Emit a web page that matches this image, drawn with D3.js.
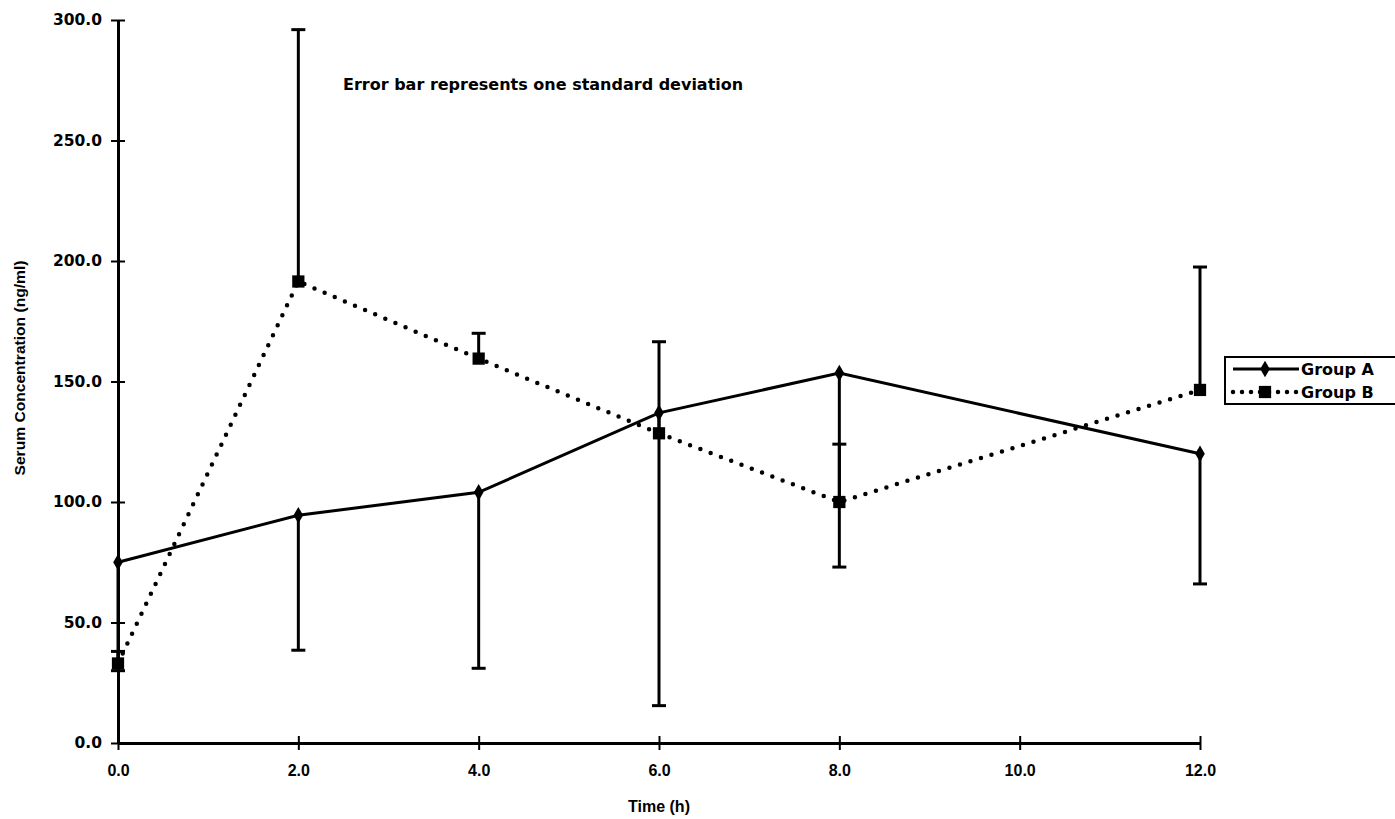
<!DOCTYPE html>
<html>
<head>
<meta charset="utf-8">
<script src="https://cdn.jsdelivr.net/npm/d3@7"></script>
<style>
  html, body { margin: 0; padding: 0; background: #fff; }
  svg { display: block; }
  text { fill: #000; }
</style>
</head>
<body>
<svg id="chart" width="1395" height="819"></svg>
<script>
// Sampling times (hours)
const times = [0, 2, 4, 6, 8, 12];
// Mean serum concentration (ng/ml)
const groupA = [75, 94.5, 104, 137, 153.5, 120];
const groupB = [33, 191.5, 159.5, 128.5, 100, 146.5];
// One standard deviation (A drawn downward, B drawn upward)
const groupAsd = [45, 56, 73, 121.5, 80.5, 54];
const groupBsd = [5, 104.5, 10.5, 38, 24, 51];
// Axis ticks
const xTicks = [0, 2, 4, 6, 8, 10, 12];
const yTicks = [0, 50, 100, 150, 200, 250, 300];
const seriesNames = ["Group A", "Group B"];

const svg = d3.select("#chart");
const margin = { left: 118, top: 20, right: 195, bottom: 76 };
const W = 1395, H = 819;

const x = d3.scaleLinear().domain([0, 12]).range([margin.left, W - margin.right]);
const y = d3.scaleLinear().domain([0, 300]).range([H - margin.bottom, margin.top]);

const wideFont = "'DejaVu Sans', sans-serif";
const plainFont = "'Liberation Sans', Arial, sans-serif";

svg.append("defs").append("clipPath").attr("id", "plot")
  .append("rect")
  .attr("x", x(0) - 10).attr("y", y(300))
  .attr("width", x(12) - x(0) + 20).attr("height", y(0) - y(300));

// Axes
const xAxis = svg.append("g")
  .attr("transform", `translate(0,${y(0)})`)
  .call(d3.axisBottom(x).tickValues(xTicks).tickSize(0).tickPadding(22)
        .tickFormat(d3.format(".1f")));
xAxis.select(".domain").attr("stroke", "#000").attr("stroke-width", 3);
xAxis.selectAll(".tick").append("line")
  .attr("y1", -7).attr("y2", 7).attr("stroke", "#000").attr("stroke-width", 2);
xAxis.selectAll("text")
  .attr("font-family", plainFont).attr("font-weight", "bold").attr("font-size", 16);

const yAxis = svg.append("g")
  .attr("transform", `translate(${x(0)},0)`)
  .call(d3.axisLeft(y).tickValues(yTicks).tickSize(0).tickPadding(16)
        .tickFormat(d3.format(".1f")));
yAxis.select(".domain").attr("stroke", "#000").attr("stroke-width", 3);
yAxis.selectAll(".tick").append("line")
  .attr("x1", -7).attr("x2", 7).attr("stroke", "#000").attr("stroke-width", 2);
yAxis.selectAll("text")
  .attr("font-family", wideFont).attr("font-weight", "bold").attr("font-size", 15.5);

// Axis titles
svg.append("text")
  .attr("x", x(6)).attr("y", 812)
  .attr("text-anchor", "middle")
  .attr("font-family", plainFont).attr("font-weight", "bold").attr("font-size", 16)
  .text("Time (h)");

svg.append("text")
  .attr("transform", `translate(25,368) rotate(-90)`)
  .attr("text-anchor", "middle")
  .attr("font-family", "'Liberation Sans Narrow', 'Liberation Sans', sans-serif")
  .attr("font-weight", "bold")
  .attr("font-size", 15)
  .attr("textLength", 215).attr("lengthAdjust", "spacingAndGlyphs")
  .text("Serum Concentration (ng/ml)");

// Note
svg.append("text")
  .attr("x", 343).attr("y", 90)
  .attr("font-family", wideFont).attr("font-weight", "bold").attr("font-size", 16)
  .text("Error bar represents one standard deviation");

const plot = svg.append("g").attr("clip-path", "url(#plot)");

const dataA = times.map((t, i) => ({ t, v: groupA[i], sd: groupAsd[i] }));
const dataB = times.map((t, i) => ({ t, v: groupB[i], sd: groupBsd[i] }));

const capW = 7;
// Error bars: Group A below the mean
const errA = plot.selectAll(".errA").data(dataA).enter().append("g");
errA.append("line")
  .attr("x1", d => x(d.t)).attr("x2", d => x(d.t))
  .attr("y1", d => y(d.v)).attr("y2", d => y(d.v - d.sd))
  .attr("stroke", "#000").attr("stroke-width", 3);
errA.append("line")
  .attr("x1", d => x(d.t) - capW).attr("x2", d => x(d.t) + capW)
  .attr("y1", d => y(d.v - d.sd)).attr("y2", d => y(d.v - d.sd))
  .attr("stroke", "#000").attr("stroke-width", 3);
// Error bars: Group B above the mean
const errB = plot.selectAll(".errB").data(dataB).enter().append("g");
errB.append("line")
  .attr("x1", d => x(d.t)).attr("x2", d => x(d.t))
  .attr("y1", d => y(d.v)).attr("y2", d => y(d.v + d.sd))
  .attr("stroke", "#000").attr("stroke-width", 3);
errB.append("line")
  .attr("x1", d => x(d.t) - capW).attr("x2", d => x(d.t) + capW)
  .attr("y1", d => y(d.v + d.sd)).attr("y2", d => y(d.v + d.sd))
  .attr("stroke", "#000").attr("stroke-width", 3);

const line = d3.line().x(d => x(d.t)).y(d => y(d.v));

plot.append("path").datum(dataA).attr("d", line)
  .attr("fill", "none").attr("stroke", "#000").attr("stroke-width", 3);
plot.append("path").datum(dataB).attr("d", line)
  .attr("fill", "none").attr("stroke", "#000").attr("stroke-width", 4.5)
  .attr("stroke-linecap", "round").attr("stroke-dasharray", "0 11");

const diamond = d3.symbol().type(d3.symbolDiamond).size(80);
const square = d3.symbol().type(d3.symbolSquare).size(150);

plot.selectAll(".mA").data(dataA).enter().append("path")
  .attr("transform", d => `translate(${x(d.t)},${y(d.v)})`)
  .attr("d", diamond).attr("fill", "#000");
plot.selectAll(".mB").data(dataB).enter().append("path")
  .attr("transform", d => `translate(${x(d.t)},${y(d.v)})`)
  .attr("d", square).attr("fill", "#000");

// Legend
const lg = svg.append("g").attr("transform", "translate(1225,357)");
lg.append("rect").attr("x", 0).attr("y", 0).attr("width", 200).attr("height", 47)
  .attr("fill", "#fff").attr("stroke", "#000").attr("stroke-width", 2);
seriesNames.forEach((name, i) => {
  const row = lg.append("g").attr("transform", `translate(0,${12 + i * 23})`);
  if (i === 0) {
    row.append("line").attr("x1", 8).attr("x2", 74).attr("y1", 0).attr("y2", 0)
      .attr("stroke", "#000").attr("stroke-width", 3);
    row.append("path").attr("transform", "translate(40,0)").attr("d", diamond).attr("fill", "#000");
  } else {
    row.append("line").attr("x1", 8).attr("x2", 74).attr("y1", 0).attr("y2", 0)
      .attr("stroke", "#000").attr("stroke-width", 4.5)
      .attr("stroke-linecap", "round").attr("stroke-dasharray", "0 9");
    row.append("path").attr("transform", "translate(40,0)").attr("d", square).attr("fill", "#000");
  }
  row.append("text").attr("x", 76).attr("y", 6)
    .attr("font-family", wideFont).attr("font-weight", "bold").attr("font-size", 16)
    .text(name);
});
</script>
</body>
</html>
